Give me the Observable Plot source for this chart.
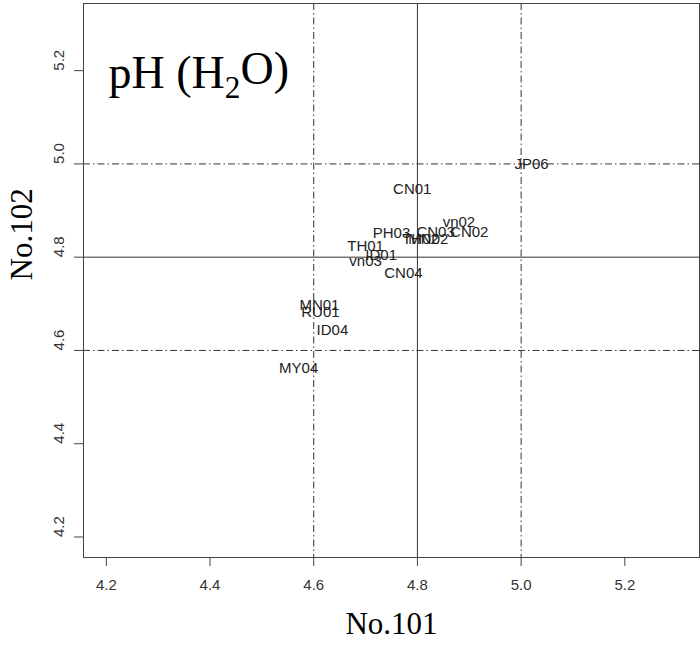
<!DOCTYPE html>
<html>
<head>
<meta charset="utf-8">
<script src="https://cdn.jsdelivr.net/npm/d3@7"></script>
<script src="https://cdn.jsdelivr.net/npm/@observablehq/plot@0.6"></script>
<style>
  html, body { margin: 0; padding: 0; background: #fff; }
  #chart svg { display: block; }
</style>
</head>
<body>
<div id="chart"></div>
<script>
// ---- data ----
const sites = ["JP06","CN01","vn02","CN02","CN03","PH03","TH02","MN02","TH01","ID01","vn03","CN04","MN01","RU01","ID04","MY04"];
const no101 = [5.02, 4.79, 4.88, 4.90, 4.835, 4.75, 4.806, 4.821, 4.70, 4.73, 4.70, 4.773, 4.611, 4.613, 4.636, 4.571];
const no102 = [5.00, 4.945, 4.874, 4.853, 4.853, 4.851, 4.838, 4.838, 4.823, 4.804, 4.791, 4.765, 4.698, 4.681, 4.643, 4.561];
const xTicks = [4.2, 4.4, 4.6, 4.8, 5.0, 5.2];
const yTicks = [4.2, 4.4, 4.6, 4.8, 5.0, 5.2];
const solidRefs = [4.8];
const dashRefs = [4.6, 5.0];
const title = "pH (H2O)";
const xTitle = "No.101";
const yTitle = "No.102";
const lims = [4.2, 5.3];

const ext = (lims[1] - lims[0]) * 0.04;
const domain = [lims[0] - ext, lims[1] + ext];
const points = sites.map((s, i) => ({site: s, x: no101[i], y: no102[i]}));
const fmt = d3.format(".1f");
const sans = "Liberation Sans, Arial, sans-serif";
const serif = "Liberation Serif, Times New Roman, serif";
const dash = "7,3,1.5,3";

const chart = Plot.plot({
  width: 700,
  height: 653,
  marginLeft: 83,
  marginRight: 1,
  marginTop: 3,
  marginBottom: 96,
  x: {domain, axis: null},
  y: {domain, axis: null},
  style: {fontFamily: sans, background: "#fff"},
  marks: [
    Plot.ruleX(solidRefs, {stroke: "#333", strokeWidth: 1}),
    Plot.ruleY(solidRefs, {stroke: "#333", strokeWidth: 1}),
    Plot.ruleX(dashRefs, {stroke: "#333", strokeWidth: 1, strokeDasharray: dash}),
    Plot.ruleY(dashRefs, {stroke: "#333", strokeWidth: 1, strokeDasharray: dash}),
    Plot.frame({stroke: "#444", strokeWidth: 1}),
    Plot.axisX({ticks: xTicks, tickSize: 9, tickFormat: () => "", stroke: "#444", label: null}),
    Plot.axisY({ticks: yTicks, tickSize: 9, tickFormat: () => "", stroke: "#444", label: null}),
    Plot.text(xTicks, {x: d => d, frameAnchor: "bottom", dy: 32, text: d => fmt(d), fontSize: 15, fill: "#333"}),
    Plot.text(yTicks, {y: d => d, frameAnchor: "left", dx: -24, rotate: -90, text: d => fmt(d), fontSize: 15, fill: "#333"}),
    Plot.text(points, {x: "x", y: "y", text: "site", fontSize: 15, fill: "#222"}),
    Plot.text([xTitle], {frameAnchor: "bottom", dy: 76, text: d => d, fontFamily: serif, fontSize: 31, fill: "#000"}),
    Plot.text([yTitle], {frameAnchor: "left", dx: -61, rotate: -90, text: d => d, fontFamily: serif, fontSize: 31, fill: "#000"}),
    Plot.text([title], {frameAnchor: "top-left", dx: 25, dy: 52, textAnchor: "start", text: d => d, fontFamily: serif, fontSize: 46, fill: "#000"})
  ]
});

// render the subscript in H2O
d3.select(chart).selectAll("text").each(function() {
  const t = d3.select(this);
  if (t.text() === title) {
    const parts = title.split("2");
    t.text("");
    t.append("tspan").text(parts[0]);
    t.append("tspan").attr("dy", "0.3em").attr("font-size", "0.68em").text("2");
    t.append("tspan").attr("dy", "-0.3em").text(parts[1]);
  }
});

document.getElementById("chart").appendChild(chart);
</script>
</body>
</html>
